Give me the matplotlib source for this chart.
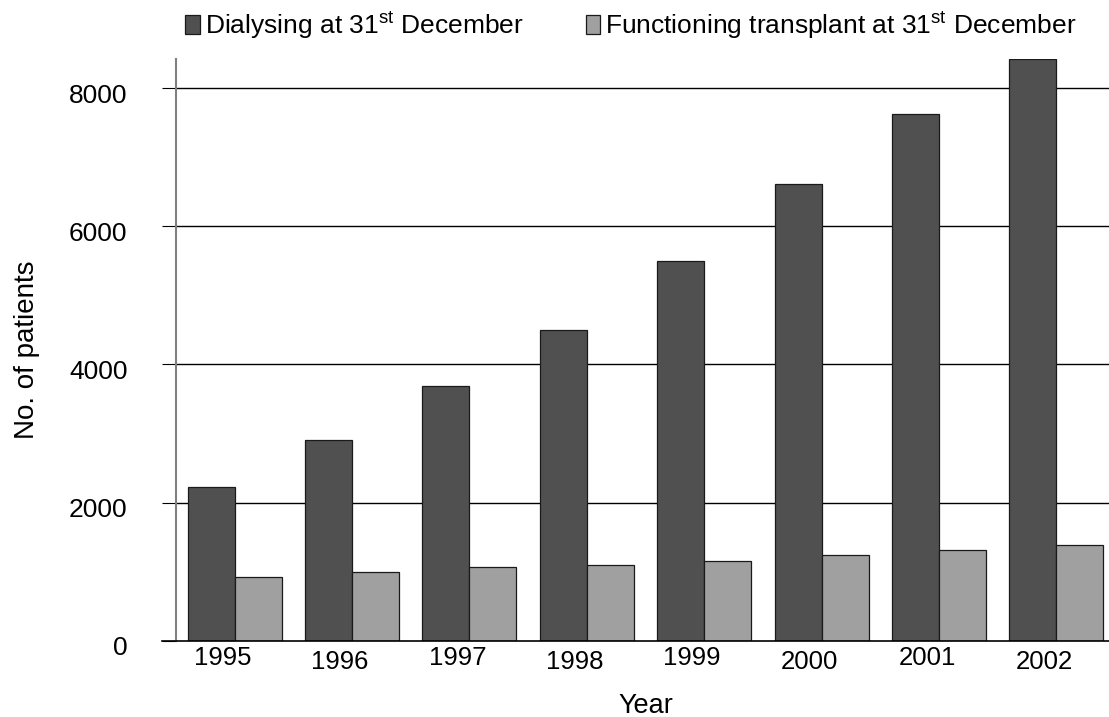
import matplotlib
matplotlib.use("Agg")
import matplotlib.pyplot as plt
import matplotlib.transforms as mtransforms
import numpy as np

plt.rcParams['font.family'] = ['Liberation Sans', 'DejaVu Sans']
plt.rcParams['mathtext.fontset'] = 'custom'
plt.rcParams['mathtext.rm'] = 'Liberation Sans'

years = ['1995', '1996', '1997', '1998', '1999', '2000', '2001', '2002']
dialysing = [2220, 2900, 3680, 4495, 5490, 6610, 7625, 8415]
transplant = [915, 1000, 1065, 1095, 1150, 1235, 1315, 1390]
y_ticks = [0, 2000, 4000, 6000, 8000]

DARK = '#505050'
LIGHT = '#a0a0a0'

fig = plt.figure(figsize=(11.09, 7.17), dpi=100)
ax = fig.add_axes([176 / 1109, 1 - 640.7 / 717, (1115 - 176) / 1109, (640.7 - 59) / 717])

x = np.arange(len(years))
w = 0.4
b1 = ax.bar(x - w / 2, dialysing, w, color=DARK, edgecolor='#1a1a1a', linewidth=0.9,
            label='Dialysing at $31^{\\mathrm{st}}$ December', zorder=3)
b2 = ax.bar(x + w / 2, transplant, w, color=LIGHT, edgecolor='#1a1a1a', linewidth=0.9,
            label='Functioning transplant at $31^{\\mathrm{st}}$ December', zorder=3)

ax.set_xlim(-0.5, len(years) - 0.5)
ax.set_ylim(0, 8420)
ax.set_yticks(y_ticks)
ax.set_yticklabels([str(v) for v in y_ticks], fontsize=19)
for v in y_ticks[1:]:
    ax.axhline(v, color='black', lw=1.0, zorder=1)

ax.set_xticks(x)
ax.set_xticklabels(years, fontsize=18.5)
ax.tick_params(axis='x', length=0, pad=3.5)
ax.tick_params(axis='y', length=10, width=0.8, color='black', direction='out', pad=25)

# shift labels like the original layout
yoff = mtransforms.ScaledTranslation(0, -5 / 100, fig.dpi_scale_trans)
for lab in ax.get_yticklabels():
    lab.set_transform(lab.get_transform() + yoff)
for i, lab in enumerate(ax.get_xticklabels()):
    dy = 0 if i % 2 == 0 else -4
    off = mtransforms.ScaledTranslation(-12 / 100, dy / 100, fig.dpi_scale_trans)
    lab.set_transform(lab.get_transform() + off)

for s in ['top', 'right']:
    ax.spines[s].set_visible(False)
ax.spines['left'].set_color('#808080')
ax.spines['left'].set_linewidth(1.5)
ax.spines['bottom'].set_color('black')
ax.spines['bottom'].set_linewidth(1.2)
ax.spines['bottom'].set_bounds(-0.5 - 14 / 117.3, len(years) - 0.5)
ax.spines['bottom'].set_zorder(4)

ax.set_ylabel('No. of patients', fontsize=20, labelpad=21)
ax.set_xlabel('Year', fontsize=19.5, labelpad=14)

fig.legend(handles=[b1, b2], loc='upper left', bbox_to_anchor=(185 / 1109, 1 - 9 / 717),
           ncol=2, frameon=False, fontsize=19, handlelength=0.55, handleheight=0.7,
           handletextpad=0.2, columnspacing=2.35, borderaxespad=0, borderpad=0)

fig.savefig('out.png', dpi=100)
